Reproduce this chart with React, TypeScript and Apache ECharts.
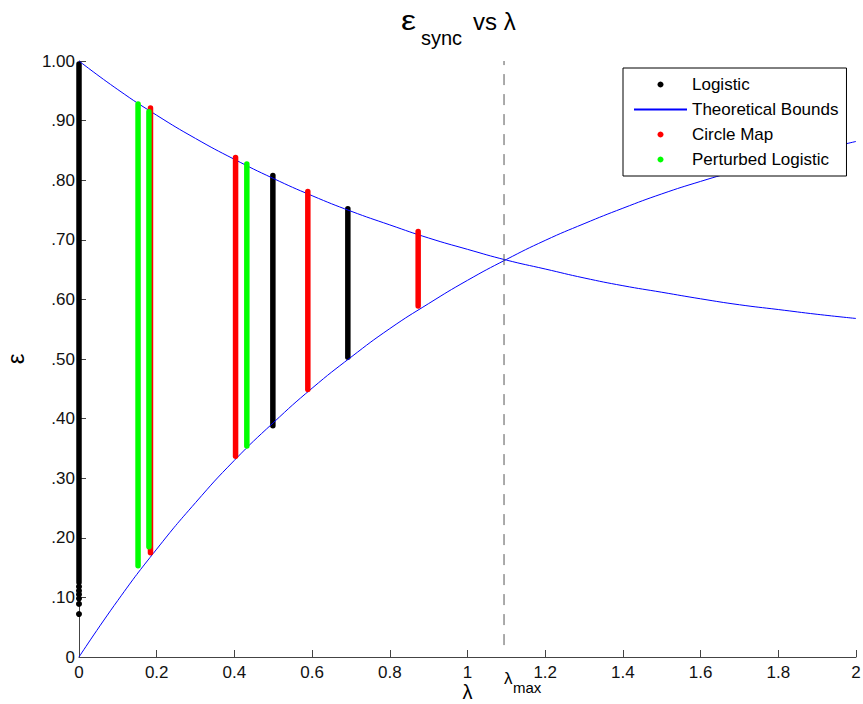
import React, { useEffect, useRef } from 'react';
import * as echarts from 'echarts';

// Theoretical bounds at λ = 0, 0.1, ..., 2
const lambdaGrid = [0, 0.1, 0.2, 0.3, 0.4, 0.5, 0.6, 0.7, 0.8, 0.9, 1.0, 1.1, 1.2, 1.3, 1.4, 1.5, 1.6, 1.7, 1.8, 1.9, 2.0];
const upperBound = [1.0, 0.952, 0.909, 0.87, 0.835, 0.803, 0.774, 0.748, 0.725, 0.703, 0.684, 0.666, 0.651, 0.636, 0.623, 0.612, 0.601, 0.591, 0.583, 0.575, 0.568];
const lowerBound = [0.0, 0.095, 0.181, 0.259, 0.33, 0.393, 0.451, 0.503, 0.551, 0.593, 0.632, 0.667, 0.699, 0.727, 0.753, 0.777, 0.798, 0.817, 0.835, 0.85, 0.865];

// Synchronisation ranges (vertical bands) per map
const logisticLambda = [0, 0.499, 0.692];
const logisticLow = [0.125, 0.388, 0.503];
const logisticHigh = [0.995, 0.808, 0.752];
const logisticExtraDots = [0.072, 0.089, 0.098, 0.105, 0.111, 0.118];

const circleLambda = [0.184, 0.403, 0.589, 0.873];
const circleLow = [0.175, 0.337, 0.449, 0.589];
const circleHigh = [0.921, 0.838, 0.781, 0.714];

const perturbedLambda = [0.152, 0.18, 0.432];
const perturbedLow = [0.153, 0.185, 0.354];
const perturbedHigh = [0.928, 0.915, 0.827];

const lambdaMax = 1.094;
const lambdaMaxSpan = [0.02, 1.0];

const yTickLabels = ['0', '.10', '.20', '.30', '.40', '.50', '.60', '.70', '.80', '.90', '1.00'];

const FONT = '"Liberation Sans", Arial, sans-serif';

export default function App() {
  const ref = useRef<HTMLDivElement>(null);

  useEffect(() => {
    const chart = echarts.init(ref.current as HTMLDivElement, null, { renderer: 'svg' });

    const bands = (name: string, color: string, xs: number[], lo: number[], hi: number[]) =>
      xs.map((x, i) => ({
        type: 'line',
        name,
        data: [[x, lo[i]], [x, hi[i]]],
        symbol: 'none',
        clip: false,
        silent: true,
        lineStyle: { color, width: 5.5, cap: 'round' },
        itemStyle: { color },
        emphasis: { disabled: true },
      }));

    const axisColor = '#444';

    chart.setOption({
      animation: false,
      backgroundColor: '#fff',
      grid: { left: 79, right: 7, top: 61, bottom: 47, containLabel: false, outerBoundsMode: 'none' },
      xAxis: {
        type: 'value',
        min: 0,
        max: 2,
        interval: 0.2,
        name: 'λ',
        nameLocation: 'middle',
        nameGap: 26,
        nameMoveOverlap: false,
        nameTextStyle: { fontSize: 20, fontFamily: FONT, color: '#000', lineHeight: 18, verticalAlign: 'top' },
        axisLine: { lineStyle: { color: axisColor, width: 1 } },
        axisTick: { inside: true, length: 7, lineStyle: { color: axisColor } },
        axisLabel: { fontSize: 17, fontFamily: FONT, color: '#111', margin: 7 },
        splitLine: { show: false },
      },
      yAxis: {
        type: 'value',
        min: 0,
        max: 1,
        interval: 0.1,
        name: 'ε',
        nameLocation: 'middle',
        nameGap: 52,
        nameMoveOverlap: false,
        nameTextStyle: { fontSize: 24, fontFamily: FONT, color: '#000' },
        axisLine: { show: true, lineStyle: { color: axisColor, width: 1 } },
        axisTick: { show: true, inside: true, length: 7, lineStyle: { color: axisColor } },
        axisLabel: {
          fontSize: 17,
          fontFamily: FONT,
          color: '#111',
          margin: 4,
          formatter: (v: number) => yTickLabels[Math.round(v * 10)] ?? '',
        },
        splitLine: { show: false },
      },
      legend: {
        data: [
          { name: 'Logistic', icon: 'circle' },
          { name: 'Theoretical Bounds', itemStyle: { opacity: 0 } },
          { name: 'Circle Map', icon: 'circle' },
          { name: 'Perturbed Logistic', icon: 'circle' },
        ],
        orient: 'vertical',
        left: 623,
        top: 68,
        itemWidth: 53,
        itemHeight: 6,
        itemGap: 8,
        padding: [8, 8, 8, 10],
        borderColor: '#000',
        borderWidth: 1,
        backgroundColor: '#fff',
        selectedMode: false,
        textStyle: { fontSize: 17, fontFamily: FONT, color: '#000' },
      },
      graphic: [
        { type: 'text', x: 401, y: 20, scaleX: 1.25, style: { text: 'ε', font: `27px ${FONT}`, fill: '#000', verticalAlign: 'middle' } },
        { type: 'text', x: 421, y: 38, style: { text: 'sync', font: `20px ${FONT}`, fill: '#000', verticalAlign: 'middle' } },
        { type: 'text', x: 473, y: 21, style: { text: 'vs λ', font: `24px ${FONT}`, fill: '#000', verticalAlign: 'middle' } },
        { type: 'text', x: 504, y: 678, style: { text: 'λ', font: `17px ${FONT}`, fill: '#000', verticalAlign: 'middle' } },
        { type: 'text', x: 513, y: 687, style: { text: 'max', font: `15px ${FONT}`, fill: '#000', verticalAlign: 'middle' } },
      ],
      series: [
        ...bands('Logistic', '#000000', logisticLambda, logisticLow, logisticHigh),
        {
          type: 'scatter',
          name: 'Logistic',
          data: logisticExtraDots.map((y) => [0, y]),
          symbol: 'circle',
          symbolSize: 6,
          clip: false,
          silent: true,
          itemStyle: { color: '#000000', opacity: 1 },
        },
        {
          type: 'line',
          name: 'Theoretical Bounds',
          data: lambdaGrid.map((x, i) => [x, upperBound[i]]),
          symbol: 'none',
          smooth: true,
          silent: true,
          lineStyle: { color: '#0000ff', width: 1 },
          itemStyle: { color: '#0000ff' },
        },
        {
          type: 'line',
          name: 'Theoretical Bounds',
          data: lambdaGrid.map((x, i) => [x, lowerBound[i]]),
          symbol: 'none',
          smooth: true,
          silent: true,
          lineStyle: { color: '#0000ff', width: 1 },
          itemStyle: { color: '#0000ff' },
        },
        ...bands('Circle Map', '#ff0000', circleLambda, circleLow, circleHigh),
        ...bands('Perturbed Logistic', '#00ff00', perturbedLambda, perturbedLow, perturbedHigh),
        {
          type: 'line',
          name: 'lambda_max',
          data: lambdaMaxSpan.map((y) => [lambdaMax, y]),
          symbol: 'none',
          silent: true,
          lineStyle: { color: '#555', width: 1, type: [11, 9] },
        },
      ],
    });

    return () => chart.dispose();
  }, []);

  return <div ref={ref} style={{ position: 'fixed', left: 0, top: 0, width: 863, height: 704 }} />;
}
